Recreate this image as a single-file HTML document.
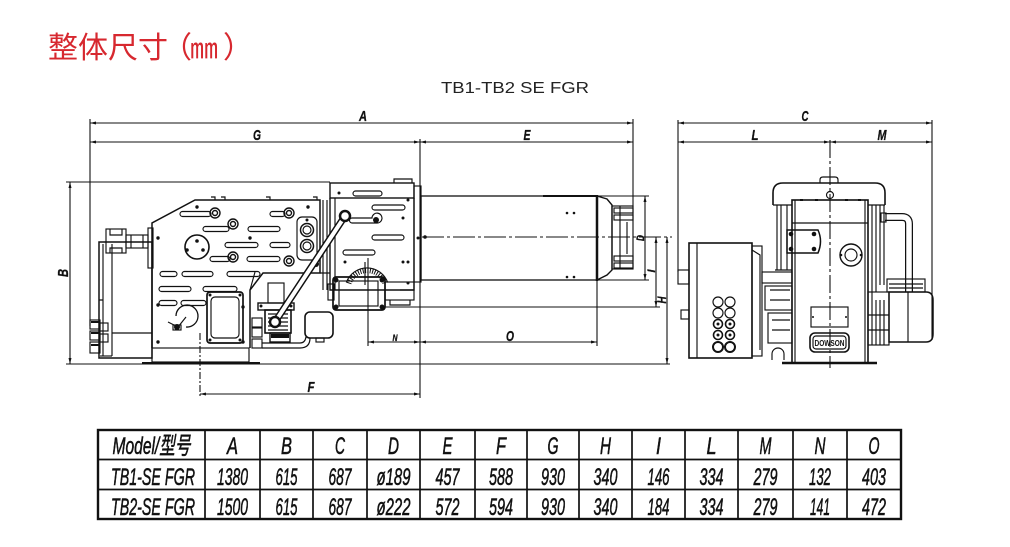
<!DOCTYPE html>
<html><head><meta charset="utf-8">
<style>
html,body{margin:0;padding:0;background:#fff;width:1010px;height:547px;overflow:hidden;}
svg{display:block;}
</style></head><body>
<svg width="1010" height="547" viewBox="0 0 1010 547" xmlns="http://www.w3.org/2000/svg">
<rect width="1010" height="547" fill="#fff"/>

<!-- Title -->
<g font-family="'Noto Sans CJK SC','WenQuanYi Zen Hei',sans-serif" font-size="30" fill="#d7282f">
<text x="48" y="58">整体尺寸</text>
<text x="162" y="58">（</text>
<text x="190" y="58" font-size="28">㎜</text>
<text x="223" y="58">）</text>
</g>
<text x="441" y="93" font-family="'Liberation Sans',sans-serif" font-size="16" fill="#222" textLength="148" lengthAdjust="spacingAndGlyphs">TB1-TB2 SE FGR</text>

<!-- ============ DIMENSIONS (main view) ============ -->
<g stroke="#111" stroke-width="1.1" fill="none">
<path d="M90,123H633 M90,142H633 M90,119V326 M420,139V398 M633,119V207"/>
<path d="M70,182V364 M66,182H330 M66,364H670"/>
<path d="M200,394H420"/>
<path d="M200,333V398" stroke-dasharray="7 2 2 2"/>
<path d="M368,342H597 M368,258V346 M597,279V346"/>
<path d="M645,196V280 M597,196H649 M597,280H649"/>
<path d="M656,237V307 M385,307H660 M667,237V364"/>
<path d="M422,237H672" stroke-dasharray="22 3 3 3"/>
<path d="M678,123H932 M678,142H932 M678,120V272 M932,120V340"/>
<path d="M830,140V368" stroke-dasharray="18 3 3 3"/>
</g>
<g fill="#111">
<path d="M90,123l6,-1.5v3z M633,123l-6,-1.5v3z M90,142l6,-1.5v3z M420,142l-6,-1.5v3z M420,142l6,-1.5v3z M633,142l-6,-1.5v3z"/>
<path d="M70,182l-1.5,6h3z M70,364l-1.5,-6h3z M200,394l6,-1.5v3z M420,394l-6,-1.5v3z"/>
<path d="M368,342l6,-1.5v3z M420,342l-6,-1.5v3z M420,342l6,-1.5v3z M597,342l-6,-1.5v3z"/>
<path d="M645,196l-1.5,6h3z M645,280l-1.5,-6h3z M656,237l-1.5,6h3z M656,307l-1.5,-6h3z M667,237l-1.5,6h3z M667,364l-1.5,-6h3z"/>
<path d="M678,123l6,-1.5v3z M932,123l-6,-1.5v3z M678,142l6,-1.5v3z M830,142l-6,-1.5v3z M830,142l6,-1.5v3z M932,142l-6,-1.5v3z"/>
</g>
<g font-family="'Liberation Sans',sans-serif" font-style="italic" font-weight="bold" font-size="15" fill="#111" text-anchor="middle" stroke="#111" stroke-width="0.3">
<text x="363" y="121" textLength="8" lengthAdjust="spacingAndGlyphs">A</text>
<text x="257" y="140" textLength="8" lengthAdjust="spacingAndGlyphs">G</text>
<text x="527" y="140" textLength="7" lengthAdjust="spacingAndGlyphs">E</text>
<text x="311" y="392" textLength="7" lengthAdjust="spacingAndGlyphs">F</text>
<text x="395" y="341" font-size="9" textLength="5" lengthAdjust="spacingAndGlyphs">N</text>
<text x="510" y="341" textLength="8" lengthAdjust="spacingAndGlyphs">O</text>
<text transform="translate(68,273) rotate(-90)" textLength="8" lengthAdjust="spacingAndGlyphs">B</text>
<text transform="translate(644,238) rotate(-90)" font-size="11" textLength="6" lengthAdjust="spacingAndGlyphs">D</text>
<text transform="translate(655,271) rotate(-90)" font-size="11" textLength="3" lengthAdjust="spacingAndGlyphs">I</text>
<text transform="translate(666,300) rotate(-90)" font-size="12" textLength="7" lengthAdjust="spacingAndGlyphs">H</text>
<text x="805" y="121" textLength="7" lengthAdjust="spacingAndGlyphs">C</text>
<text x="755" y="140" textLength="7" lengthAdjust="spacingAndGlyphs">L</text>
<text x="882" y="140" textLength="9" lengthAdjust="spacingAndGlyphs">M</text>
</g>

<!-- ============ MAIN VIEW DRAWING ============ -->
<g stroke="#111" stroke-width="1.15" fill="none">
<path d="M152,348V223L195,200H320V273H263L250,290V348" stroke-width="1.5"/>
<rect x="152" y="348" width="97" height="14"/>
<path d="M142,363H260" stroke-width="2"/>
<path d="M211,197h4v3 M221,197h4v3 M266,197h4v3 M313,197h4v3"/>
<path d="M323,200V290 M327,200V290 M320,273H330"/>
<rect x="99" y="242" width="53" height="116" stroke-width="1.5"/>
<path d="M103,244V356 M112,244V356 M112,333H152 M99,300H103"/>
<rect x="106" y="229" width="20" height="24"/>
<path d="M110,229v6h12v-6 M110,253v-5h12v5"/>
<rect x="126" y="235" width="22" height="13"/>
<path d="M131,235v13 M143,235v13"/>
<rect x="148" y="228" width="5" height="40"/>
<circle cx="197" cy="247" r="12" stroke-width="1.6"/>
<path d="M186,327A11,11 0 1 0 176,316" stroke-width="1.3"/>
<path d="M168,322L178,327L186,317"/>
<rect x="173" y="325" width="8" height="5"/>
<rect x="207" y="292" width="36" height="51" rx="3" stroke-width="1.7"/>
<rect x="211" y="297" width="28" height="41" rx="4"/>
<rect x="297" y="217" width="20" height="43" rx="5"/>
<circle cx="307" cy="230" r="6.5" stroke-width="1.5"/><circle cx="307" cy="230" r="4"/>
<circle cx="307" cy="246" r="6.5" stroke-width="1.5"/><circle cx="307" cy="246" r="4"/>
<g>
<rect x="180" y="211.5" width="31" height="5" rx="2.5"/>
<rect x="270" y="211.5" width="15" height="5" rx="2.5"/>
<rect x="203" y="226.5" width="26" height="5" rx="2.5"/>
<rect x="248" y="226.5" width="32" height="5" rx="2.5"/>
<rect x="225" y="242.5" width="33" height="5" rx="2.5"/>
<rect x="270" y="242.5" width="20" height="5" rx="2.5"/>
<rect x="210" y="256.5" width="20" height="5" rx="2.5"/>
<rect x="247" y="256.5" width="33" height="5" rx="2.5"/>
<rect x="160" y="271.5" width="17" height="5" rx="2.5"/>
<rect x="182" y="271.5" width="31" height="5" rx="2.5"/>
<rect x="227" y="271.5" width="33" height="5" rx="2.5"/>
<rect x="159" y="286.5" width="32" height="5" rx="2.5"/>
<rect x="203" y="286.5" width="34" height="5" rx="2.5"/>
<rect x="159" y="300.5" width="18" height="5" rx="2.5"/>
<rect x="181" y="300.5" width="25" height="5" rx="2.5"/>
</g>
<g stroke-width="1.4">
<circle cx="215" cy="213" r="5"/><circle cx="215" cy="213" r="2.5"/>
<circle cx="289" cy="213" r="5"/><circle cx="289" cy="213" r="2.5"/>
<circle cx="233" cy="224" r="5"/><circle cx="233" cy="224" r="2.5"/>
<circle cx="233" cy="257" r="5"/><circle cx="233" cy="257" r="2.5"/>
<circle cx="289" cy="261" r="5"/><circle cx="289" cy="261" r="2.5"/>
</g>
<rect x="330" y="183" width="84" height="15" stroke-width="1.4"/>
<path d="M330,198V290H414V198" stroke-width="1.4"/>
<path d="M335,198V290"/>
<rect x="414" y="186" width="7" height="96"/>
<path d="M394,183v-4h18v4"/>
<rect x="385" y="282" width="29" height="18"/>
<path d="M400,290H414 M390,300v5h20v-5"/>
<rect x="353" y="191" width="29" height="5" rx="2.5"/>
<rect x="372" y="205" width="33" height="5" rx="2.5"/>
<path d="M352,218H372A5,5 0 1 1 376,223H352A2.5,2.5 0 0 1 352,218"/>
<rect x="372" y="235" width="32" height="5" rx="2.5"/>
<rect x="343" y="250" width="32" height="5" rx="2.5"/>
<rect x="333" y="277" width="52" height="33" rx="3" stroke-width="1.7"/>
<rect x="339" y="281" width="39" height="25"/>
<rect x="328" y="284" width="6" height="16"/>
<path d="M346.3,282.5A22,22 0 0 1 387.7,282.5"/>
<path d="M349,283.5A19,19 0 0 1 385,283.5" stroke-width="5" stroke-dasharray="1 1.4"/>
<path d="M365,262V285"/>
<rect x="268" y="283" width="16" height="20"/>
<rect x="258" y="303" width="36" height="7" stroke-width="1.4"/>
<rect x="265" y="310" width="26" height="23" stroke-width="1.6"/>
<path d="M268,314h20 M268,318h20 M268,322h20 M268,326h20 M268,330h20" stroke-width="1.2"/>
<rect x="270" y="333" width="20" height="9" stroke-width="1.4"/>
<path d="M255,272L250,290" />
<rect x="252" y="318" width="10" height="9"/>
<rect x="252" y="328" width="10" height="9"/>
<rect x="252" y="339" width="10" height="9"/>
<path d="M262,343H300Q305,343 306,337 M262,348H300Q310,348 310,338" stroke-width="1.2"/>
<rect x="305" y="312" width="28" height="26" rx="5" stroke-width="1.6"/>
<rect x="316" y="338" width="8" height="4"/>
<rect x="90" y="320" width="10" height="9"/>
<rect x="90" y="331" width="10" height="9"/>
<rect x="90" y="342" width="10" height="11"/>
<rect x="100" y="323" width="8" height="8"/>
<rect x="100" y="334" width="8" height="8"/>
<path d="M100,356H112"/>
</g>
<g fill="#111">
<circle cx="197" cy="207" r="1.7"/><circle cx="308" cy="207" r="1.7"/>
<circle cx="158" cy="238" r="1.7"/><circle cx="250" cy="238" r="1.7"/>
<circle cx="158" cy="305" r="1.7"/><circle cx="243" cy="307" r="1.7"/>
<circle cx="158" cy="342" r="1.7"/><circle cx="243" cy="342" r="1.7"/>
<circle cx="187" cy="250" r="1.8"/><circle cx="203" cy="250" r="1.8"/><circle cx="197" cy="241" r="1.8"/>
<circle cx="177" cy="327" r="3"/>
<circle cx="307" cy="220" r="1.5"/><circle cx="316" cy="264" r="3"/>
<circle cx="339" cy="193" r="1.5"/><circle cx="408" cy="200" r="1.5"/><circle cx="403" cy="218" r="1.5"/>
<circle cx="376" cy="220" r="3"/><circle cx="345" cy="262" r="1.5"/><circle cx="403" cy="262" r="1.5"/><circle cx="408" cy="262" r="1.5"/>
<circle cx="408" cy="283" r="1.5"/><circle cx="418" cy="238" r="1.5"/>
<circle cx="336" cy="280" r="2.5"/><circle cx="382" cy="280" r="2.5"/><circle cx="336" cy="307" r="2.5"/><circle cx="382" cy="307" r="2.5"/>
<circle cx="210" cy="295" r="1.5"/><circle cx="240" cy="295" r="1.5"/><circle cx="210" cy="340" r="1.5"/><circle cx="240" cy="340" r="1.5"/>
<rect x="91" y="321" width="8" height="2"/><rect x="91" y="332" width="8" height="2"/><rect x="91" y="344" width="8" height="2"/>
<rect x="271" y="334" width="18" height="4"/>
<circle cx="261" cy="306" r="1.5"/><circle cx="291" cy="306" r="1.5"/>
</g>
<path d="M345,216L275,322" stroke="#111" stroke-width="7" stroke-linecap="round"/>
<path d="M345,216L275,322" stroke="#fff" stroke-width="4" stroke-linecap="round"/>
<circle cx="345" cy="216" r="5" fill="#fff" stroke="#111" stroke-width="2.5"/>
<circle cx="275" cy="322" r="5" fill="#fff" stroke="#111" stroke-width="2.5"/>

<!-- blast tube -->
<g stroke="#111" stroke-width="1.15" fill="none">
<rect x="421" y="196" width="176" height="84" stroke-width="1.3"/>
<path d="M543,196H597" stroke-width="2"/>
<path d="M597,195V281" stroke-width="2.5"/>
<path d="M597,196L607,199L612,205V270L607,275L597,280" stroke-width="1.4"/>
<rect x="612" y="206" width="21" height="63"/>
<rect x="614" y="208" width="19" height="5"/>
<rect x="614" y="215" width="19" height="5"/>
<rect x="614" y="256" width="19" height="5"/>
<rect x="614" y="263" width="19" height="5"/>
<path d="M620,206V269 M627,222V254"/>
</g>
<g fill="#111">
<circle cx="567" cy="213" r="1.3"/><circle cx="574" cy="213" r="1.3"/>
<circle cx="567" cy="277" r="1.3"/><circle cx="574" cy="277" r="1.3"/>
<circle cx="425" cy="237" r="1.8"/>
</g>

<!-- ============ SIDE VIEW ============ -->
<g stroke="#111" stroke-width="1.15" fill="none">
<rect x="689" y="243" width="63" height="115" stroke-width="1.6"/>
<path d="M697,243V358"/>
<rect x="752" y="246" width="10" height="110"/>
<path d="M752,250L760,255V350"/>
<rect x="678" y="270" width="11" height="14"/>
<rect x="681" y="310" width="8" height="9"/>
<circle cx="718" cy="302" r="5"/><circle cx="730" cy="302" r="5"/>
<circle cx="718" cy="313" r="5"/><circle cx="730" cy="313" r="5"/>
<circle cx="718" cy="324" r="4.5" stroke-width="1.6"/><circle cx="730" cy="324" r="4.5" stroke-width="1.6"/>
<circle cx="718" cy="335" r="4.5" stroke-width="1.6"/><circle cx="730" cy="335" r="4.5" stroke-width="1.6"/>
<circle cx="718" cy="347" r="5" stroke-width="2"/><circle cx="730" cy="347" r="5" stroke-width="2"/>
<rect x="762" y="272" width="30" height="11"/>
<rect x="765" y="286" width="27" height="24"/>
<rect x="768" y="313" width="24" height="30"/>
<path d="M770,290h20 M770,300h20 M772,320h18 M772,330h18"/>
<path d="M772,360V354A6,6 0 0 1 784,354V360"/>
<path d="M773,205V193Q773,183 783,183H875Q885,183 885,193V205" stroke-width="1.6"/>
<path d="M773,205H792 M868,205H885"/>
<path d="M820,183v-3q0,-3 3,-3h12q3,0 3,3v3"/>
<circle cx="830" cy="195" r="3.5"/>
<path d="M777,205V270 M781,205V270 M787,205V270 M775,270H792"/>
<path d="M872,205V292 M876,205V292 M880,205V285 M884,205V285"/>
<rect x="792" y="200" width="76" height="163" stroke-width="1.6"/>
<path d="M795,200V363 M865,200V363 M792,223H868"/>
<path d="M782,363H877" stroke-width="2.5"/>
<path d="M787,230H818Q823,241 818,253H787Z" stroke-width="1.5"/>
<circle cx="851" cy="255" r="11" stroke-width="1.4"/>
<circle cx="851" cy="255" r="6"/>
<rect x="811" y="307" width="37" height="20"/>
<rect x="810" y="333" width="39" height="19" rx="5" stroke-width="1.6"/>
<rect x="813" y="336" width="33" height="13" rx="3"/>
<path d="M885,217H902Q909,217 909,224V292" stroke-width="8"/>
<path d="M885,217H902Q909,217 909,224V292" stroke="#fff" stroke-width="5.5"/>
<rect x="881" y="213" width="5" height="9"/>
<rect x="887" y="279" width="38" height="13"/>
<path d="M889,284h34 M889,288h34"/>
<path d="M889,292H926Q933,292 933,300V334Q933,342 926,342H889Z" stroke-width="1.5"/>
<path d="M908,292V342"/>
<rect x="868" y="292" width="21" height="53"/>
<path d="M872,292V345 M876,300V345 M880,300V345 M884,300V345 M868,315H889 M868,330H889"/>
</g>
<g fill="#111">
<circle cx="791" cy="234" r="2.3"/><circle cx="791" cy="249" r="2.3"/><circle cx="814" cy="234" r="2.3"/><circle cx="814" cy="249" r="2.3"/>
<circle cx="841" cy="255" r="1.3"/><circle cx="861" cy="255" r="1.3"/>
<circle cx="813" cy="317" r="1"/><circle cx="846" cy="317" r="1"/>
<circle cx="718" cy="324" r="1.5"/><circle cx="730" cy="324" r="1.5"/>
<circle cx="718" cy="335" r="1.5"/><circle cx="730" cy="335" r="1.5"/>
<rect x="800" y="199" width="3" height="2"/><rect x="815" y="199" width="3" height="2"/><rect x="845" y="199" width="3" height="2"/><rect x="858" y="199" width="3" height="2"/>
</g>
<text x="829.5" y="346" font-family="'Liberation Sans',sans-serif" font-weight="bold" font-size="8" fill="#111" text-anchor="middle" textLength="30" lengthAdjust="spacingAndGlyphs">DOWSON</text>

<!-- ============ TABLE ============ -->
<g stroke="#111" fill="none">
<rect x="98" y="430" width="803" height="89" stroke-width="2.4"/>
<path d="M98,459.5H901 M98,489.5H901" stroke-width="1.7"/>
<path d="M205,430V519 M260,430V519 M313,430V519 M367,430V519 M420,430V519 M475,430V519 M527,430V519 M579,430V519 M632,430V519 M685,430V519 M738,430V519 M793,430V519 M847,430V519" stroke-width="1.7"/>
</g>
<g font-family="'Liberation Sans','Noto Sans CJK SC',sans-serif" font-style="italic" font-size="24" fill="#111" stroke="#111" stroke-width="0.55" text-anchor="middle">
<text x="151.5" y="454" textLength="78" lengthAdjust="spacingAndGlyphs">Model/型号</text>
<text x="232.5" y="454" textLength="11" lengthAdjust="spacingAndGlyphs">A</text>
<text x="286.5" y="454" textLength="11" lengthAdjust="spacingAndGlyphs">B</text>
<text x="340" y="454" textLength="10" lengthAdjust="spacingAndGlyphs">C</text>
<text x="393.5" y="454" textLength="11" lengthAdjust="spacingAndGlyphs">D</text>
<text x="447.5" y="454" textLength="10" lengthAdjust="spacingAndGlyphs">E</text>
<text x="501" y="454" textLength="10" lengthAdjust="spacingAndGlyphs">F</text>
<text x="553" y="454" textLength="11" lengthAdjust="spacingAndGlyphs">G</text>
<text x="605.5" y="454" textLength="11" lengthAdjust="spacingAndGlyphs">H</text>
<text x="658.5" y="454" textLength="5" lengthAdjust="spacingAndGlyphs">I</text>
<text x="711.5" y="454" textLength="10" lengthAdjust="spacingAndGlyphs">L</text>
<text x="765.5" y="454" textLength="12" lengthAdjust="spacingAndGlyphs">M</text>
<text x="820" y="454" textLength="11" lengthAdjust="spacingAndGlyphs">N</text>
<text x="874" y="454" textLength="11" lengthAdjust="spacingAndGlyphs">O</text>

<text x="153" y="485" textLength="84" lengthAdjust="spacingAndGlyphs">TB1-SE FGR</text>
<text x="232.5" y="485" textLength="31" lengthAdjust="spacingAndGlyphs">1380</text>
<text x="286.5" y="485" textLength="22" lengthAdjust="spacingAndGlyphs">615</text>
<text x="340" y="485" textLength="23" lengthAdjust="spacingAndGlyphs">687</text>
<text x="393.5" y="485" textLength="34" lengthAdjust="spacingAndGlyphs">ø189</text>
<text x="447.5" y="485" textLength="24" lengthAdjust="spacingAndGlyphs">457</text>
<text x="501" y="485" textLength="24" lengthAdjust="spacingAndGlyphs">588</text>
<text x="553" y="485" textLength="24" lengthAdjust="spacingAndGlyphs">930</text>
<text x="605.5" y="485" textLength="24" lengthAdjust="spacingAndGlyphs">340</text>
<text x="658.5" y="485" textLength="22" lengthAdjust="spacingAndGlyphs">146</text>
<text x="711.5" y="485" textLength="24" lengthAdjust="spacingAndGlyphs">334</text>
<text x="765.5" y="485" textLength="24" lengthAdjust="spacingAndGlyphs">279</text>
<text x="820" y="485" textLength="22" lengthAdjust="spacingAndGlyphs">132</text>
<text x="874" y="485" textLength="24" lengthAdjust="spacingAndGlyphs">403</text>

<text x="153" y="515" textLength="84" lengthAdjust="spacingAndGlyphs">TB2-SE FGR</text>
<text x="232.5" y="515" textLength="31" lengthAdjust="spacingAndGlyphs">1500</text>
<text x="286.5" y="515" textLength="22" lengthAdjust="spacingAndGlyphs">615</text>
<text x="340" y="515" textLength="23" lengthAdjust="spacingAndGlyphs">687</text>
<text x="393.5" y="515" textLength="34" lengthAdjust="spacingAndGlyphs">ø222</text>
<text x="447.5" y="515" textLength="24" lengthAdjust="spacingAndGlyphs">572</text>
<text x="501" y="515" textLength="24" lengthAdjust="spacingAndGlyphs">594</text>
<text x="553" y="515" textLength="24" lengthAdjust="spacingAndGlyphs">930</text>
<text x="605.5" y="515" textLength="24" lengthAdjust="spacingAndGlyphs">340</text>
<text x="658.5" y="515" textLength="22" lengthAdjust="spacingAndGlyphs">184</text>
<text x="711.5" y="515" textLength="24" lengthAdjust="spacingAndGlyphs">334</text>
<text x="765.5" y="515" textLength="24" lengthAdjust="spacingAndGlyphs">279</text>
<text x="820" y="515" textLength="20" lengthAdjust="spacingAndGlyphs">141</text>
<text x="874" y="515" textLength="24" lengthAdjust="spacingAndGlyphs">472</text>
</g>
</svg>
</body></html>
